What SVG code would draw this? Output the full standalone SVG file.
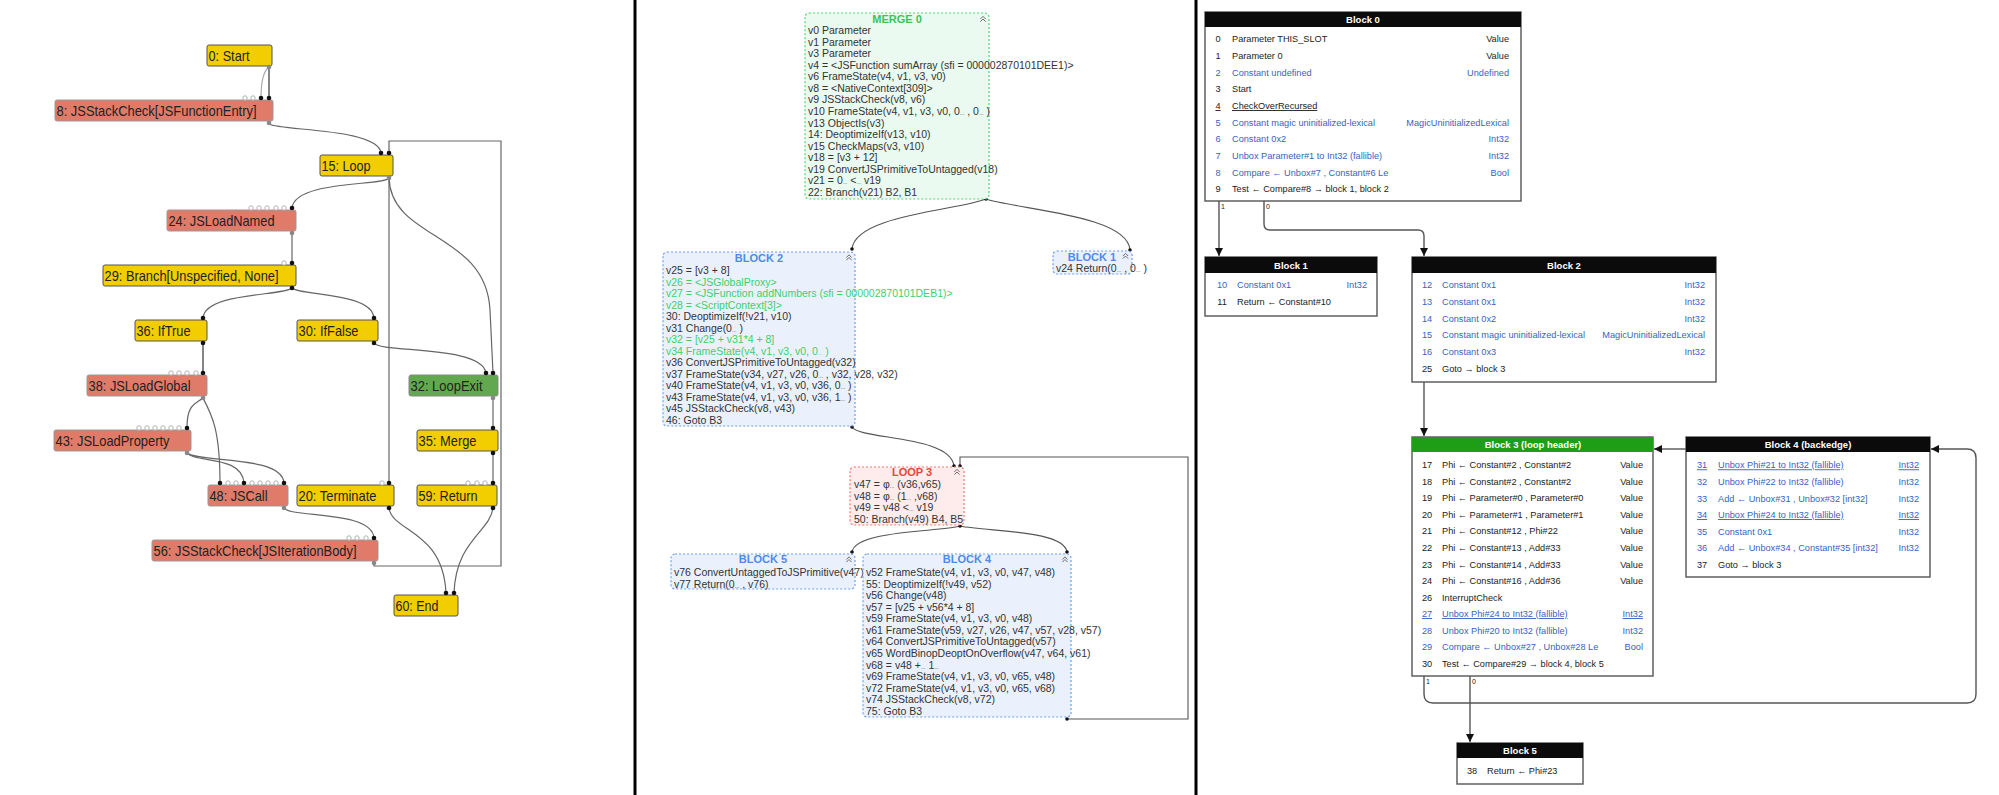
<svg xmlns="http://www.w3.org/2000/svg" width="1999" height="795" viewBox="0 0 1999 795">
<defs>
<style>
.lbl{font-family:"Liberation Sans",Arial,sans-serif;font-size:15px;fill:#222}
.ny{fill:#f2cd00;stroke:#555;stroke-width:1}
.ns{fill:#e07b6a;stroke:#999;stroke-width:1}
.ng{fill:#62a84f;stroke:#888;stroke-width:1}
.e{fill:none;stroke:#666;stroke-width:1.2}
.ek{fill:none;stroke:#222;stroke-width:1.1}
.pi{fill:#111}
.po{fill:#888}
.ph{fill:#fff;stroke:#aaa;stroke-width:0.9}
.mt{font-family:"Liberation Sans",Arial,sans-serif;font-size:10.5px;fill:#333}
.mg{fill:#3fcf6a}
.s{font-size:5.5px}
.ttl{font-family:"Liberation Sans",Arial,sans-serif;font-size:11px;font-weight:bold;text-anchor:middle}
.bm{fill:#eafaf0;stroke:#55d46e;stroke-width:1.2;stroke-dasharray:2 2}
.bb{fill:#eaf1fc;stroke:#6d9fe9;stroke-width:1.2;stroke-dasharray:2 2}
.br{fill:#fdeceb;stroke:#f27b72;stroke-width:1.2;stroke-dasharray:2 2}
.me{fill:none;stroke:#555;stroke-width:1.1}
.rb{fill:#fff;stroke:#555;stroke-width:1.4}
.rh{fill:#0b0b0b}
.rht{font-family:"Liberation Sans",Arial,sans-serif;font-size:9.5px;font-weight:bold;fill:#fff;text-anchor:middle}
.rt{font-family:"Liberation Sans",Arial,sans-serif;font-size:9.2px;fill:#222}
.bl{fill:#3a5fbf}
.num{text-anchor:middle}
.ty{text-anchor:end}
.u{text-decoration:underline}
.re{fill:none;stroke:#555;stroke-width:1.4}
.sep{stroke:#000;stroke-width:3}
</style>
<symbol id="col" viewBox="0 0 8 8"><path d="M1,4 L4,1 L7,4 M1,7 L4,4 L7,7" fill="none" stroke="#666" stroke-width="1.1"/></symbol>
<marker id="ar" viewBox="0 0 10 10" refX="10" refY="5" markerUnits="userSpaceOnUse" markerWidth="8" markerHeight="8" orient="auto"><path d="M0,0 L10,5 L0,10z" fill="#111"/></marker>
</defs>
<rect width="1999" height="795" fill="#fff"/>
<line class="sep" x1="635" y1="0" x2="635" y2="795"/>
<line class="sep" x1="1196" y1="0" x2="1196" y2="795"/>

<!-- LEFT PANEL connectors -->
<g id="left-edges">
<path class="e" style="stroke:#aaa" d="M269,67 C262,72 261,85 261,98"/>
<path class="ek" d="M269,67 L269,98"/>
<path class="e" d="M269,124 C280,131 378,128 381,153"/>
<path class="e" d="M389,178 C385,186 295,180 292,208"/>
<path class="e" d="M389,178 C391,240 486,232 490,310 L493,373"/>
<path class="e" d="M389,178 L389,483"/>
<path class="e" d="M292,233 L292,263"/>
<path class="e" d="M292,288 C285,296 205,292 203,318"/>
<path class="e" d="M292,288 C300,296 372,292 374,318"/>
<path class="ek" d="M203,343 L203,373"/>
<path class="e" d="M374,343 C380,353 482,345 486,373"/>
<path class="e" d="M203,398 C194,405 187,405 187,428"/>
<path class="e" d="M203,398 C212,415 220,430 220,483"/>
<path class="e" d="M187,453 C195,463 242,455 244,483"/>
<path class="e" d="M187,453 C200,463 282,455 284,483"/>
<path class="e" d="M284,508 C290,518 372,510 374,538"/>
<path class="e" d="M374,563 L374,566 L501,566 L501,141 L389,141 L389,153"/>
<path class="e" d="M493,398 L493,428"/>
<path class="e" d="M493,453 L493,483"/>
<path class="e" d="M389,508 C392,532 443,530 446,593"/>
<path class="e" d="M493,508 C490,532 456,540 454,593"/>
</g>

<!-- LEFT PANEL nodes -->
<g id="n0"><rect class="ny" x="207" y="45" width="65" height="21" rx="2"/><text class="lbl" x="208.5" y="60.5" textLength="41" lengthAdjust="spacingAndGlyphs">0: Start</text></g>
<g id="n8"><rect class="ns" x="55" y="100" width="218" height="21" rx="2"/><text class="lbl" x="56.5" y="115.5" textLength="200" lengthAdjust="spacingAndGlyphs">8: JSStackCheck[JSFunctionEntry]</text></g>
<g id="n15"><rect class="ny" x="320" y="155" width="73" height="21" rx="2"/><text class="lbl" x="321.5" y="170.5" textLength="49" lengthAdjust="spacingAndGlyphs">15: Loop</text></g>
<g id="n24"><rect class="ns" x="167" y="210" width="129" height="21" rx="2"/><text class="lbl" x="168.5" y="225.5" textLength="106" lengthAdjust="spacingAndGlyphs">24: JSLoadNamed</text></g>
<g id="n29"><rect class="ny" x="103" y="265" width="193" height="21" rx="2"/><text class="lbl" x="104.5" y="280.5" textLength="174" lengthAdjust="spacingAndGlyphs">29: Branch[Unspecified, None]</text></g>
<g id="n36"><rect class="ny" x="135" y="320" width="72" height="21" rx="2"/><text class="lbl" x="136.5" y="335.5" textLength="54" lengthAdjust="spacingAndGlyphs">36: IfTrue</text></g>
<g id="n30"><rect class="ny" x="297" y="320" width="81" height="21" rx="2"/><text class="lbl" x="298.5" y="335.5" textLength="60" lengthAdjust="spacingAndGlyphs">30: IfFalse</text></g>
<g id="n38"><rect class="ns" x="87" y="375" width="120" height="21" rx="2"/><text class="lbl" x="88.5" y="390.5" textLength="102" lengthAdjust="spacingAndGlyphs">38: JSLoadGlobal</text></g>
<g id="n32"><rect class="ng" x="409" y="375" width="89" height="21" rx="2"/><text class="lbl" x="410.5" y="390.5" textLength="72" lengthAdjust="spacingAndGlyphs">32: LoopExit</text></g>
<g id="n43"><rect class="ns" x="54" y="430" width="137" height="21" rx="2"/><text class="lbl" x="55.5" y="445.5" textLength="114" lengthAdjust="spacingAndGlyphs">43: JSLoadProperty</text></g>
<g id="n35"><rect class="ny" x="417" y="430" width="81" height="21" rx="2"/><text class="lbl" x="418.5" y="445.5" textLength="58" lengthAdjust="spacingAndGlyphs">35: Merge</text></g>
<g id="n48"><rect class="ns" x="208" y="485" width="80" height="21" rx="2"/><text class="lbl" x="209.5" y="500.5" textLength="58" lengthAdjust="spacingAndGlyphs">48: JSCall</text></g>
<g id="n20"><rect class="ny" x="297" y="485" width="97" height="21" rx="2"/><text class="lbl" x="298.5" y="500.5" textLength="78" lengthAdjust="spacingAndGlyphs">20: Terminate</text></g>
<g id="n59"><rect class="ny" x="417" y="485" width="80" height="21" rx="2"/><text class="lbl" x="418.5" y="500.5" textLength="59" lengthAdjust="spacingAndGlyphs">59: Return</text></g>
<g id="n56"><rect class="ns" x="152" y="540" width="226" height="21" rx="2"/><text class="lbl" x="153.5" y="555.5" textLength="203" lengthAdjust="spacingAndGlyphs">56: JSStackCheck[JSIterationBody]</text></g>
<g id="n60"><rect class="ny" x="394" y="595" width="64" height="21" rx="2"/><text class="lbl" x="395.5" y="610.5" textLength="43" lengthAdjust="spacingAndGlyphs">60: End</text></g>

<!-- LEFT PANEL ports -->
<g id="left-ports">
<g class="ph">
<circle cx="245" cy="98" r="2.2"/><circle cx="253" cy="98" r="2.2"/>
<circle cx="251" cy="208" r="2.2"/><circle cx="259" cy="208" r="2.2"/><circle cx="267" cy="208" r="2.2"/><circle cx="276" cy="208" r="2.2"/><circle cx="284" cy="208" r="2.2"/>
<circle cx="284" cy="263" r="2.2"/>
<circle cx="171" cy="373" r="2.2"/><circle cx="179" cy="373" r="2.2"/><circle cx="187" cy="373" r="2.2"/><circle cx="196" cy="373" r="2.2"/>
<circle cx="139" cy="428" r="2.2"/><circle cx="147" cy="428" r="2.2"/><circle cx="155" cy="428" r="2.2"/><circle cx="163" cy="428" r="2.2"/><circle cx="171" cy="428" r="2.2"/><circle cx="179" cy="428" r="2.2"/>
<circle cx="228" cy="483" r="2.2"/><circle cx="236" cy="483" r="2.2"/><circle cx="252" cy="483" r="2.2"/><circle cx="260" cy="483" r="2.2"/><circle cx="268" cy="483" r="2.2"/><circle cx="276" cy="483" r="2.2"/>
<circle cx="382" cy="483" r="2.2"/>
<circle cx="349" cy="538" r="2.2"/><circle cx="357" cy="538" r="2.2"/><circle cx="366" cy="538" r="2.2"/>
<circle cx="468" cy="483" r="2.2"/><circle cx="477" cy="483" r="2.2"/><circle cx="485" cy="483" r="2.2"/>
</g>
<g class="pi">
<circle cx="261" cy="98" r="2.3"/><circle cx="269" cy="98" r="2.3"/>
<circle cx="381" cy="153" r="2.3"/><circle cx="389" cy="153" r="2.3"/>
<circle cx="292" cy="208" r="2.3"/><circle cx="292" cy="263" r="2.3"/>
<circle cx="203" cy="318" r="2.3"/><circle cx="374" cy="318" r="2.3"/>
<circle cx="203" cy="373" r="2.3"/><circle cx="486" cy="373" r="2.3"/><circle cx="493" cy="373" r="2.3"/>
<circle cx="187" cy="428" r="2.3"/><circle cx="493" cy="428" r="2.3"/>
<circle cx="220" cy="483" r="2.3"/><circle cx="244" cy="483" r="2.3"/><circle cx="284" cy="483" r="2.3"/>
<circle cx="389" cy="483" r="2.3"/><circle cx="493" cy="483" r="2.3"/>
<circle cx="374" cy="538" r="2.3"/>
<circle cx="446" cy="593" r="2.3"/><circle cx="454" cy="593" r="2.3"/>
<circle cx="292" cy="288" r="2.3"/><circle cx="203" cy="343" r="2.3"/><circle cx="374" cy="343" r="2.3"/>
<circle cx="493" cy="453" r="2.3"/><circle cx="389" cy="508" r="2.3"/><circle cx="493" cy="508" r="2.3"/>
</g>
<g class="po">
<circle cx="269" cy="67" r="2.3"/><circle cx="269" cy="123" r="2.3"/><circle cx="389" cy="178" r="2.3"/>
<circle cx="292" cy="233" r="2.3"/><circle cx="203" cy="398" r="2.3"/><circle cx="493" cy="398" r="2.3"/>
<circle cx="187" cy="453" r="2.3"/><circle cx="284" cy="508" r="2.3"/><circle cx="374" cy="563" r="2.3"/>
</g>
</g>

<!-- MIDDLE PANEL connectors -->
<g id="mid-edges">
<path class="me" d="M986,199 C960,210 855,215 852,249"/>
<path class="me" d="M986,199 C1020,210 1128,215 1130,250"/>
<path class="me" d="M852,427 C860,440 950,435 954,466"/>
<path class="me" d="M960,466 L960,457 L1188,457 L1188,719 L1067,719"/>
<path class="me" d="M960,526 C940,532 855,530 852,552"/>
<path class="me" d="M960,526 C990,532 1064,530 1067,552"/>
<g fill="#111">
<circle cx="986" cy="199" r="1.8"/><circle cx="852" cy="249" r="1.8"/><circle cx="1130" cy="250" r="1.8"/>
<circle cx="852" cy="427" r="1.8"/><circle cx="954" cy="466" r="1.8"/><circle cx="960" cy="466" r="1.8"/>
<circle cx="960" cy="526" r="1.8"/><circle cx="852" cy="552" r="1.8"/><circle cx="1067" cy="552" r="1.8"/><circle cx="1067" cy="719" r="1.8"/>
</g>
</g>

<!-- MIDDLE PANEL nodes -->
<g id="merge0">
<rect class="bm" x="805" y="13" width="184" height="186" rx="4"/>
<text class="ttl" x="897" y="22.5" fill="#3cc25e">MERGE 0</text>
<use href="#col" x="979.5" y="15.5" width="7" height="7"/>
<text class="mt" x="808" y="34">
<tspan x="808">v0 Parameter</tspan>
<tspan x="808" dy="11.57">v1 Parameter</tspan>
<tspan x="808" dy="11.57">v3 Parameter</tspan>
<tspan x="808" dy="11.57">v4 = &lt;JSFunction sumArray (sfi = 000002870101DEE1)&gt;</tspan>
<tspan x="808" dy="11.57">v6 FrameState(v4, v1, v3, v0)</tspan>
<tspan x="808" dy="11.57">v8 = &lt;NativeContext[309]&gt;</tspan>
<tspan x="808" dy="11.57">v9 JSStackCheck(v8, v6)</tspan>
<tspan x="808" dy="11.57">v10 FrameState(v4, v1, v3, v0, 0<tspan class="s">...</tspan> , 0<tspan class="s">...</tspan> )</tspan>
<tspan x="808" dy="11.57">v13 ObjectIs(v3)</tspan>
<tspan x="808" dy="11.57">14: DeoptimizeIf(v13, v10)</tspan>
<tspan x="808" dy="11.57">v15 CheckMaps(v3, v10)</tspan>
<tspan x="808" dy="11.57">v18 = [v3 + 12]</tspan>
<tspan x="808" dy="11.57">v19 ConvertJSPrimitiveToUntagged(v18)</tspan>
<tspan x="808" dy="11.57">v21 = 0<tspan class="s">...</tspan> &lt;<tspan class="s">...</tspan> v19</tspan>
<tspan x="808" dy="11.57">22: Branch(v21) B2, B1</tspan>
</text>
</g>

<g id="block2m">
<rect class="bb" x="663" y="252" width="192" height="174" rx="4"/>
<text class="ttl" x="759" y="262" fill="#4f8ae8">BLOCK 2</text>
<use href="#col" x="845.5" y="254" width="7" height="7"/>
<text class="mt" x="666" y="274">
<tspan x="666">v25 = [v3 + 8]</tspan>
<tspan x="666" dy="11.54" class="mg">v26 = &lt;JSGlobalProxy&gt;</tspan>
<tspan x="666" dy="11.54" class="mg">v27 = &lt;JSFunction addNumbers (sfi = 000002870101DEB1)&gt;</tspan>
<tspan x="666" dy="11.54" class="mg">v28 = &lt;ScriptContext[3]&gt;</tspan>
<tspan x="666" dy="11.54">30: DeoptimizeIf(!v21, v10)</tspan>
<tspan x="666" dy="11.54">v31 Change(0<tspan class="s">...</tspan> )</tspan>
<tspan x="666" dy="11.54" class="mg">v32 = [v25 + v31*4 + 8]</tspan>
<tspan x="666" dy="11.54" class="mg">v34 FrameState(v4, v1, v3, v0, 0<tspan class="s">...</tspan> )</tspan>
<tspan x="666" dy="11.54">v36 ConvertJSPrimitiveToUntagged(v32)</tspan>
<tspan x="666" dy="11.54">v37 FrameState(v34, v27, v26, 0<tspan class="s">...</tspan> , v32, v28, v32)</tspan>
<tspan x="666" dy="11.54">v40 FrameState(v4, v1, v3, v0, v36, 0<tspan class="s">...</tspan> )</tspan>
<tspan x="666" dy="11.54">v43 FrameState(v4, v1, v3, v0, v36, 1<tspan class="s">...</tspan> )</tspan>
<tspan x="666" dy="11.54">v45 JSStackCheck(v8, v43)</tspan>
<tspan x="666" dy="11.54">46: Goto B3</tspan>
</text>
</g>

<g id="block1m">
<rect class="bb" x="1053" y="251" width="79" height="23" rx="4"/>
<text class="ttl" x="1092" y="260.5" fill="#4f8ae8">BLOCK 1</text>
<use href="#col" x="1122" y="252.5" width="7" height="7"/>
<text class="mt" x="1056" y="271.5">v24 Return(0<tspan class="s">...</tspan> , 0<tspan class="s">...</tspan> )</text>
</g>

<g id="loop3m">
<rect class="br" x="850" y="467" width="114" height="58" rx="4"/>
<text class="ttl" x="912" y="476" fill="#e8453c">LOOP 3</text>
<use href="#col" x="953.5" y="468.5" width="7" height="7"/>
<text class="mt" x="854" y="488">
<tspan x="854">v47 = φ<tspan class="s">...</tspan> (v36,v65)</tspan>
<tspan x="854" dy="11.67">v48 = φ<tspan class="s">...</tspan> (1<tspan class="s">...</tspan> ,v68)</tspan>
<tspan x="854" dy="11.67">v49 = v48 &lt;<tspan class="s">...</tspan> v19</tspan>
<tspan x="854" dy="11.67">50: Branch(v49) B4, B5</tspan>
</text>
</g>

<g id="block5m">
<rect class="bb" x="671" y="554" width="184" height="35" rx="4"/>
<text class="ttl" x="763" y="563" fill="#4f8ae8">BLOCK 5</text>
<use href="#col" x="845.5" y="556" width="7" height="7"/>
<text class="mt" x="674" y="576">
<tspan x="674">v76 ConvertUntaggedToJSPrimitive(v47)</tspan>
<tspan x="674" dy="11.5">v77 Return(0<tspan class="s">...</tspan> , v76)</tspan>
</text>
</g>

<g id="block4m">
<rect class="bb" x="863" y="554" width="208" height="163" rx="4"/>
<text class="ttl" x="967" y="563" fill="#4f8ae8">BLOCK 4</text>
<use href="#col" x="1061.5" y="556" width="7" height="7"/>
<text class="mt" x="866" y="576">
<tspan x="866">v52 FrameState(v4, v1, v3, v0, v47, v48)</tspan>
<tspan x="866" dy="11.58">55: DeoptimizeIf(!v49, v52)</tspan>
<tspan x="866" dy="11.58">v56 Change(v48)</tspan>
<tspan x="866" dy="11.58">v57 = [v25 + v56*4 + 8]</tspan>
<tspan x="866" dy="11.58">v59 FrameState(v4, v1, v3, v0, v48)</tspan>
<tspan x="866" dy="11.58">v61 FrameState(v59, v27, v26, v47, v57, v28, v57)</tspan>
<tspan x="866" dy="11.58">v64 ConvertJSPrimitiveToUntagged(v57)</tspan>
<tspan x="866" dy="11.58">v65 WordBinopDeoptOnOverflow(v47, v64, v61)</tspan>
<tspan x="866" dy="11.58">v68 = v48 +<tspan class="s">...</tspan> 1<tspan class="s">...</tspan></tspan>
<tspan x="866" dy="11.58">v69 FrameState(v4, v1, v3, v0, v65, v48)</tspan>
<tspan x="866" dy="11.58">v72 FrameState(v4, v1, v3, v0, v65, v68)</tspan>
<tspan x="866" dy="11.58">v74 JSStackCheck(v8, v72)</tspan>
<tspan x="866" dy="11.58">75: Goto B3</tspan>
</text>
</g>

<!-- RIGHT PANEL connectors -->
<g id="right-edges">
<path class="re" d="M1219,201 L1219,256" marker-end="url(#ar)"/>
<path class="re" d="M1264,201 L1264,224 Q1264,230 1270,230 L1418,230 Q1424,230 1424,236 L1424,256" marker-end="url(#ar)"/>
<path class="re" d="M1424,382 L1424,436" marker-end="url(#ar)"/>
<path class="re" d="M1686,449 L1654,449" marker-end="url(#ar)"/>
<path class="re" d="M1424,676 L1424,694 Q1424,703 1433,703 L1967,703 Q1976,703 1976,694 L1976,458 Q1976,449 1967,449 L1931,449" marker-end="url(#ar)"/>
<path class="re" d="M1470,676 L1470,742" marker-end="url(#ar)"/>
<g class="rt" style="font-size:7px">
<text x="1221" y="209">1</text><text x="1266" y="209">0</text>
<text x="1426" y="684">1</text><text x="1472" y="684">0</text>
</g>
</g>

<!-- RIGHT PANEL nodes -->
<g id="rblock0">
<rect class="rb" x="1205" y="12" width="316" height="189"/>
<rect class="rh" x="1205" y="12" width="316" height="15"/>
<text class="rht" x="1363" y="23">Block 0</text>
<g class="rt">
<text class="num" x="1218" y="42.3">0</text><text x="1232" y="42.3">Parameter THIS_SLOT</text><text class="ty" x="1509" y="42.3">Value</text>
<text class="num" x="1218" y="59">1</text><text x="1232" y="59">Parameter 0</text><text class="ty" x="1509" y="59">Value</text>
<g class="bl"><text class="num" x="1218" y="75.6">2</text><text x="1232" y="75.6">Constant undefined</text><text class="ty" x="1509" y="75.6">Undefined</text></g>
<text class="num" x="1218" y="92.3">3</text><text x="1232" y="92.3">Start</text>
<text class="num u" x="1218" y="109">4</text><text class="u" x="1232" y="109">CheckOverRecursed</text>
<g class="bl">
<text class="num" x="1218" y="125.6">5</text><text x="1232" y="125.6">Constant magic uninitialized-lexical</text><text class="ty" x="1509" y="125.6">MagicUninitializedLexical</text>
<text class="num" x="1218" y="142.3">6</text><text x="1232" y="142.3">Constant 0x2</text><text class="ty" x="1509" y="142.3">Int32</text>
<text class="num" x="1218" y="159">7</text><text x="1232" y="159">Unbox  Parameter#1  to Int32 (fallible)</text><text class="ty" x="1509" y="159">Int32</text>
<text class="num" x="1218" y="175.6">8</text><text x="1232" y="175.6">Compare ← Unbox#7 , Constant#6  Le</text><text class="ty" x="1509" y="175.6">Bool</text>
</g>
<text class="num" x="1218" y="192.3">9</text><text x="1232" y="192.3">Test ← Compare#8 → block 1, block 2</text>
</g>
</g>

<g id="rblock1">
<rect class="rb" x="1205" y="257" width="172" height="59"/>
<rect class="rh" x="1205" y="257" width="172" height="16"/>
<text class="rht" x="1291" y="268.5">Block 1</text>
<g class="rt">
<g class="bl"><text class="num" x="1222" y="288.3">10</text><text x="1237" y="288.3">Constant 0x1</text><text class="ty" x="1367" y="288.3">Int32</text></g>
<text class="num" x="1222" y="305.3">11</text><text x="1237" y="305.3">Return ← Constant#10</text>
</g>
</g>

<g id="rblock2">
<rect class="rb" x="1412" y="257" width="304" height="125"/>
<rect class="rh" x="1412" y="257" width="304" height="16"/>
<text class="rht" x="1564" y="268.5">Block 2</text>
<g class="rt">
<g class="bl">
<text class="num" x="1427" y="288.3">12</text><text x="1442" y="288.3">Constant 0x1</text><text class="ty" x="1705" y="288.3">Int32</text>
<text class="num" x="1427" y="305">13</text><text x="1442" y="305">Constant 0x1</text><text class="ty" x="1705" y="305">Int32</text>
<text class="num" x="1427" y="321.6">14</text><text x="1442" y="321.6">Constant 0x2</text><text class="ty" x="1705" y="321.6">Int32</text>
<text class="num" x="1427" y="338.3">15</text><text x="1442" y="338.3">Constant magic uninitialized-lexical</text><text class="ty" x="1705" y="338.3">MagicUninitializedLexical</text>
<text class="num" x="1427" y="355">16</text><text x="1442" y="355">Constant 0x3</text><text class="ty" x="1705" y="355">Int32</text>
</g>
<text class="num" x="1427" y="371.6">25</text><text x="1442" y="371.6">Goto → block 3</text>
</g>
</g>

<g id="rblock3">
<rect class="rb" x="1412" y="437" width="241" height="239"/>
<rect x="1412" y="437" width="241" height="15" fill="#1e9e17"/>
<text class="rht" x="1533" y="448">Block 3 (loop header)</text>
<g class="rt">
<text class="num" x="1427" y="468.3">17</text><text x="1442" y="468.3">Phi ← Constant#2 , Constant#2</text><text class="ty" x="1643" y="468.3">Value</text>
<text class="num" x="1427" y="484.8">18</text><text x="1442" y="484.8">Phi ← Constant#2 , Constant#2</text><text class="ty" x="1643" y="484.8">Value</text>
<text class="num" x="1427" y="501.4">19</text><text x="1442" y="501.4">Phi ← Parameter#0 , Parameter#0</text><text class="ty" x="1643" y="501.4">Value</text>
<text class="num" x="1427" y="517.9">20</text><text x="1442" y="517.9">Phi ← Parameter#1 , Parameter#1</text><text class="ty" x="1643" y="517.9">Value</text>
<text class="num" x="1427" y="534.4">21</text><text x="1442" y="534.4">Phi ← Constant#12 , Phi#22</text><text class="ty" x="1643" y="534.4">Value</text>
<text class="num" x="1427" y="551">22</text><text x="1442" y="551">Phi ← Constant#13 , Add#33</text><text class="ty" x="1643" y="551">Value</text>
<text class="num" x="1427" y="567.5">23</text><text x="1442" y="567.5">Phi ← Constant#14 , Add#33</text><text class="ty" x="1643" y="567.5">Value</text>
<text class="num" x="1427" y="584">24</text><text x="1442" y="584">Phi ← Constant#16 , Add#36</text><text class="ty" x="1643" y="584">Value</text>
<text class="num" x="1427" y="600.5">26</text><text x="1442" y="600.5">InterruptCheck</text>
<g class="bl">
<text class="num u" x="1427" y="617.1">27</text><text class="u" x="1442" y="617.1">Unbox  Phi#24  to Int32 (fallible)</text><text class="ty u" x="1643" y="617.1">Int32</text>
<text class="num" x="1427" y="633.6">28</text><text x="1442" y="633.6">Unbox  Phi#20  to Int32 (fallible)</text><text class="ty" x="1643" y="633.6">Int32</text>
<text class="num" x="1427" y="650.1">29</text><text x="1442" y="650.1">Compare ← Unbox#27 , Unbox#28  Le</text><text class="ty" x="1643" y="650.1">Bool</text>
</g>
<text class="num" x="1427" y="666.7">30</text><text x="1442" y="666.7">Test ← Compare#29 → block 4, block 5</text>
</g>
</g>

<g id="rblock4">
<rect class="rb" x="1686" y="437" width="244" height="140"/>
<rect class="rh" x="1686" y="437" width="244" height="15"/>
<text class="rht" x="1808" y="448">Block 4 (backedge)</text>
<g class="rt">
<g class="bl">
<text class="num u" x="1702" y="468.3">31</text><text class="u" x="1718" y="468.3">Unbox  Phi#21  to Int32 (fallible)</text><text class="ty u" x="1919" y="468.3">Int32</text>
<text class="num" x="1702" y="484.9">32</text><text x="1718" y="484.9">Unbox  Phi#22  to Int32 (fallible)</text><text class="ty" x="1919" y="484.9">Int32</text>
<text class="num" x="1702" y="501.5">33</text><text x="1718" y="501.5">Add ← Unbox#31 , Unbox#32  [int32]</text><text class="ty" x="1919" y="501.5">Int32</text>
<text class="num u" x="1702" y="518.1">34</text><text class="u" x="1718" y="518.1">Unbox  Phi#24  to Int32 (fallible)</text><text class="ty u" x="1919" y="518.1">Int32</text>
<text class="num" x="1702" y="534.7">35</text><text x="1718" y="534.7">Constant 0x1</text><text class="ty" x="1919" y="534.7">Int32</text>
<text class="num" x="1702" y="551.3">36</text><text x="1718" y="551.3">Add ← Unbox#34 , Constant#35  [int32]</text><text class="ty" x="1919" y="551.3">Int32</text>
</g>
<text class="num" x="1702" y="567.9">37</text><text x="1718" y="567.9">Goto → block 3</text>
</g>
</g>

<g id="rblock5">
<rect class="rb" x="1457" y="743" width="126" height="41"/>
<rect class="rh" x="1457" y="743" width="126" height="15"/>
<text class="rht" x="1520" y="754">Block 5</text>
<g class="rt">
<text class="num" x="1472" y="774.3">38</text><text x="1487" y="774.3">Return ← Phi#23</text>
</g>
</g>
</svg>
